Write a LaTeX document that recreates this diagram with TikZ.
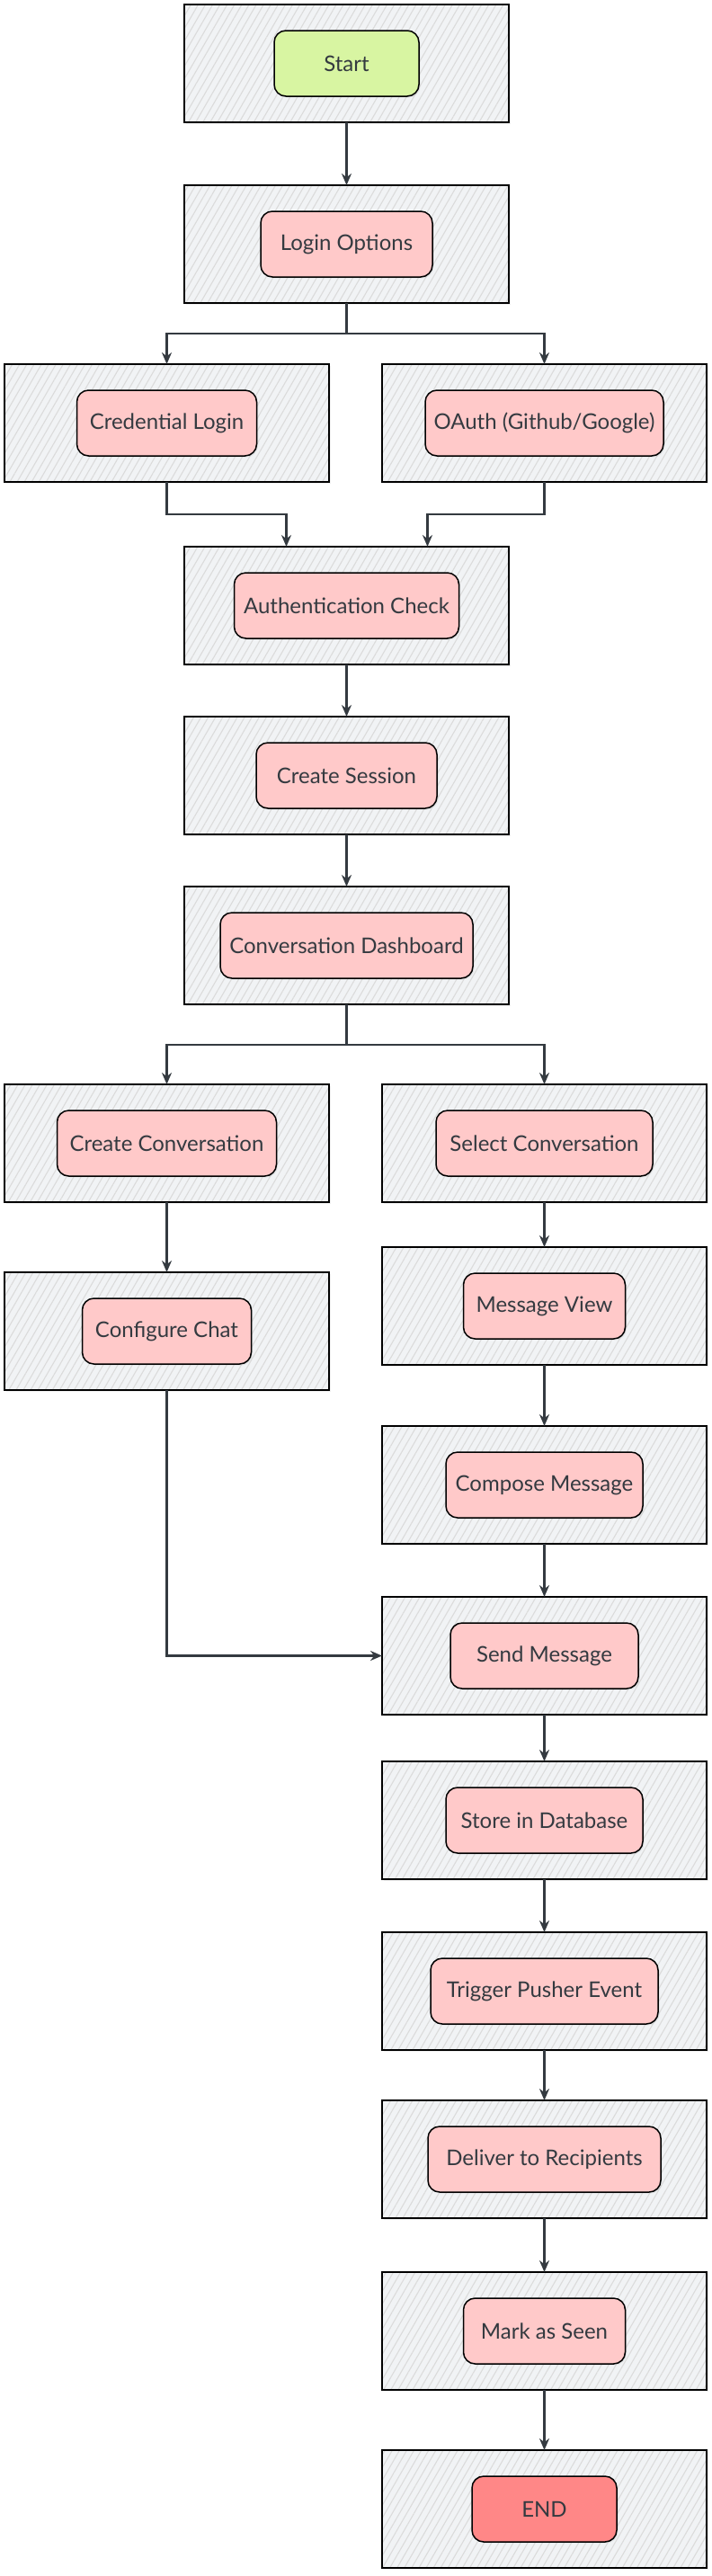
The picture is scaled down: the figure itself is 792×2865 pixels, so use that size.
\documentclass[tikz,border=0pt]{standalone}
\usepackage{fontspec}
\setmainfont{Lato}
\usepackage{tikz}
\usetikzlibrary{arrows.meta,positioning,patterns.meta,shadows}
\definecolor{inkgrey}{HTML}{343A40}
\definecolor{groupgrey}{HTML}{F1F3F5}
\definecolor{stepred}{HTML}{FFC9C9}
\definecolor{startgreen}{HTML}{D8F5A2}
\definecolor{endred}{HTML}{FF8787}

\begin{document}
\begin{tikzpicture}[x=1pt, y=1pt,
    stepgroup/.style={rectangle, draw=black, line width=2pt,
        minimum width=361pt, minimum height=131pt, inner sep=0pt, outer sep=0pt,
        drop shadow={shadow xshift=2pt, shadow yshift=-2pt, opacity=0.12},
        preaction={fill=groupgrey},
        pattern={Lines[angle=60, distance=7pt, line width=1.1pt]},
        pattern color=gray!28},
    stepbox/.style={rectangle, draw=black, line width=1.5pt, fill=stepred,
        rounded corners=13pt, minimum height=73pt, inner sep=0pt,
        text=inkgrey, font=\fontsize{24}{28}\selectfont,
        drop shadow={shadow xshift=1.5pt, shadow yshift=-1.5pt, opacity=0.15}},
    flow/.style={draw=inkgrey, line width=2.6pt, -{Stealth[length=13pt, width=11pt]}}
]
\useasboundingbox (0,0) rectangle (792,-2865);

\node[stepgroup] (startgrp) at (385.5,-70.5) {};
\node[stepbox, fill=startgreen, minimum width=161pt] (start) at (startgrp) {Start};

\node[stepgroup, below=70pt of startgrp] (logingrp) {};
\node[stepbox, minimum width=191pt] (login) at (logingrp) {Login Options};

\node[stepgroup, below=68pt of logingrp, xshift=-200pt] (credgrp) {};
\node[stepbox, minimum width=200pt] (cred) at (credgrp) {Credential Login};
\node[stepgroup, below=68pt of logingrp, xshift=220pt] (oauthgrp) {};
\node[stepbox, minimum width=265pt] (oauth) at (oauthgrp) {OAuth (Github/Google)};

\node[stepgroup, below=72pt of credgrp, xshift=200pt] (authgrp) {};
\node[stepbox, minimum width=250pt] (auth) at (authgrp) {Authentication Check};

\node[stepgroup, below=58pt of authgrp] (sessiongrp) {};
\node[stepbox, minimum width=201pt] (session) at (sessiongrp) {Create Session};

\node[stepgroup, below=58pt of sessiongrp] (dashgrp) {};
\node[stepbox, minimum width=281pt] (dash) at (dashgrp) {Conversation Dashboard};

\node[stepgroup, below=89pt of dashgrp, xshift=-200pt] (newconvgrp) {};
\node[stepbox, minimum width=244pt] (newconv) at (newconvgrp) {Create Conversation};
\node[stepgroup, below=89pt of dashgrp, xshift=220pt] (selconvgrp) {};
\node[stepbox, minimum width=241pt] (selconv) at (selconvgrp) {Select Conversation};

\node[stepgroup, below=78pt of newconvgrp] (configgrp) {};
\node[stepbox, minimum width=188pt] (config) at (configgrp) {Configure Chat};

\node[stepgroup, below=50pt of selconvgrp] (viewgrp) {};
\node[stepbox, minimum width=180pt] (view) at (viewgrp) {Message View};

\node[stepgroup, below=68pt of viewgrp] (composegrp) {};
\node[stepbox, minimum width=219pt] (compose) at (composegrp) {Compose Message};

\node[stepgroup, below=59pt of composegrp] (sendgrp) {};
\node[stepbox, minimum width=209pt] (send) at (sendgrp) {Send Message};

\node[stepgroup, below=52pt of sendgrp] (storegrp) {};
\node[stepbox, minimum width=219pt] (store) at (storegrp) {Store in Database};

\node[stepgroup, below=59pt of storegrp] (pushergrp) {};
\node[stepbox, minimum width=253pt] (pusher) at (pushergrp) {Trigger Pusher Event};

\node[stepgroup, below=56pt of pushergrp] (delivergrp) {};
\node[stepbox, minimum width=259pt] (deliver) at (delivergrp) {Deliver to Recipients};

\node[stepgroup, below=60pt of delivergrp] (seengrp) {};
\node[stepbox, minimum width=180pt] (seen) at (seengrp) {Mark as Seen};

\node[stepgroup, below=67pt of seengrp] (endgrp) {};
\node[stepbox, fill=endred, minimum width=161pt] (end) at (endgrp) {END};

\draw[flow] (startgrp) -- (logingrp);
\draw[flow] (logingrp.south) -- ++(0,-34) -| (credgrp.north);
\draw[flow] (logingrp.south) -- ++(0,-34) -| (oauthgrp.north);
\draw[flow] (credgrp.south) -- ++(0,-36) -| ([xshift=-67pt]authgrp.north);
\draw[flow] (oauthgrp.south) -- ++(0,-36) -| ([xshift=90pt]authgrp.north);
\draw[flow] (authgrp) -- (sessiongrp);
\draw[flow] (sessiongrp) -- (dashgrp);
\draw[flow] (dashgrp.south) -- ++(0,-45) -| (newconvgrp.north);
\draw[flow] (dashgrp.south) -- ++(0,-45) -| (selconvgrp.north);
\draw[flow] (newconvgrp) -- (configgrp);
\draw[flow] (selconvgrp) -- (viewgrp);
\draw[flow] (viewgrp) -- (composegrp);
\draw[flow] (configgrp.south) |- (sendgrp.west);
\draw[flow] (composegrp) -- (sendgrp);
\draw[flow] (sendgrp) -- (storegrp);
\draw[flow] (storegrp) -- (pushergrp);
\draw[flow] (pushergrp) -- (delivergrp);
\draw[flow] (delivergrp) -- (seengrp);
\draw[flow] (seengrp) -- (endgrp);
\end{tikzpicture}
\end{document}
